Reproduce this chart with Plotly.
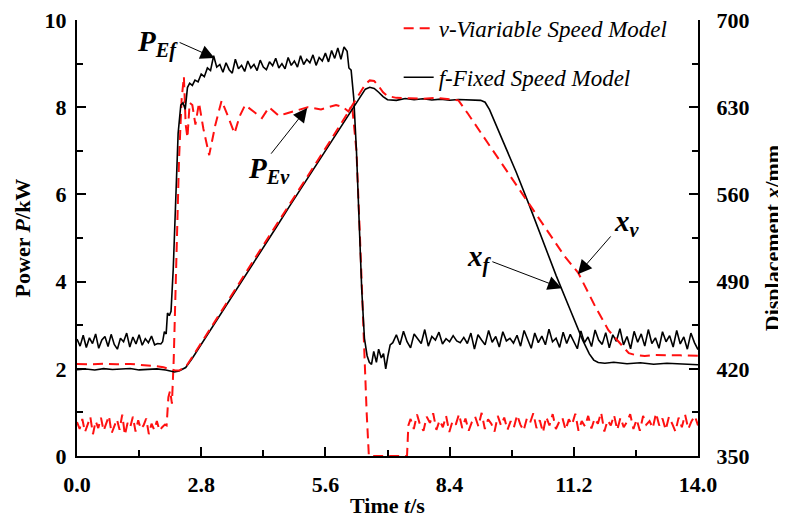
import numpy as np
import plotly.graph_objects as go

FONT = "Liberation Serif"

# ---------------- data ----------------
# Fixed-speed model: electric power P_Ef (kW)
pf_a = [2.68,2.52,2.77,2.49,2.71,2.58,2.80,2.47,2.66,2.74,2.51,2.79,2.56,2.45,2.70,
        2.62,2.82,2.50,2.73,2.57,2.78,2.54,2.69,2.60,2.75,2.55,2.58,2.57]
pf_a_span = (0.0, 1.89)
pf_rise_t = [1.93,1.97,2.01,2.04,2.08,2.12,2.17,2.22,2.28,2.34,2.39,2.44,2.49,2.54,2.60]
pf_rise = [2.62,2.85,2.80,3.28,3.22,3.32,4.30,5.90,7.40,8.05,8.10,7.95,8.45,8.55,8.50]
pf_b = [8.62,8.58,8.76,8.70,8.90,8.84,9.18,8.92,8.98,8.80,9.02,8.86,8.78,9.10,8.88,
        8.96,8.82,9.06,8.90,8.98,8.84,9.08,8.92,8.86,9.04,8.95,9.12,8.90,9.00,8.88,
        9.14,8.96,9.06,8.92,9.18,8.98,9.10,9.02,9.20,8.96,9.14,9.06,9.24,9.04,9.30,
        9.12,9.36,9.10,9.38,9.28]
pf_b_span = (2.66, 6.09)
pf_drop_t = [6.13,6.18,6.24,6.30,6.36,6.42,6.48,6.54,6.59,6.64,6.69,6.75,6.80,6.86,6.91,6.96,7.01,7.06]
pf_drop = [8.90,8.85,8.20,7.00,5.40,3.80,2.70,2.30,2.15,2.10,2.40,2.15,2.45,2.25,2.35,2.00,2.30,2.55]
pf_c = [2.60,2.78,2.55,2.86,2.62,2.48,2.80,2.70,2.58,2.90,
        2.52,2.74,2.66,2.84,2.57,2.69,2.62,2.76,2.64,2.60,
        2.72,2.58,2.82,2.45,2.78,2.66,2.55,2.88,2.61,2.74,
        2.50,2.85,2.64,2.70,2.59,2.77,2.52,2.88,2.67,2.47,
        2.82,2.60,2.75,2.55,2.91,2.62,2.70,2.49,2.84,2.58,
        2.79,2.64,2.46,2.87,2.60,2.73,2.51,2.89,2.66,2.56,
        2.83,2.48,2.78,2.63,2.92,2.55,2.74,2.46,2.86,2.61,
        2.80,2.52,2.90,2.58,2.71,2.47,2.85,2.62,2.76,2.50,
        2.88,2.57,2.73,2.45,2.82,2.60,2.44]
pf_c_span = (7.12, 14.0)

# Variable-speed model: electric power P_Ev (kW)
pv_a = [0.78,0.62,0.85,0.55,0.72,0.90,0.50,0.80,0.64,0.88,
        0.58,0.74,0.92,0.52,0.70,0.84,0.60,0.95,0.48,0.76,
        0.66,0.90,0.56,0.82,0.62,0.70,0.86,0.50,0.74,0.60,
        0.80,0.58,0.66,0.72]
pv_a_span = (0.0, 1.98)
pv_mid_t = [2.02,2.06,2.10,2.14,2.18,2.24,2.30,2.36,2.41,2.45,2.49,2.54,2.60,2.67,2.75,
            2.85,2.98,3.12,3.26,3.40,3.55,3.67,3.79,3.98,4.17,4.33,4.55,4.70,4.85,5.02,
            5.20,5.50,5.84,6.00,6.12,6.20,6.30,6.38,6.46,6.53,6.58,7.44,7.47]
pv_mid = [0.70,1.35,1.50,1.20,2.20,4.50,6.80,8.20,8.70,7.60,7.30,8.10,8.05,7.60,8.10,
          7.50,6.90,7.60,8.15,7.80,7.40,7.80,8.05,7.90,7.75,8.00,7.80,7.85,7.90,7.95,
          8.00,7.95,8.05,8.00,7.90,8.05,7.00,5.00,2.80,1.00,0.00,0.00,0.70]
pv_c = [0.85,0.62,0.95,0.70,0.58,0.90,0.76,0.98,0.60,0.82,
        0.66,0.92,0.55,0.80,0.72,0.96,0.64,0.86,0.58,0.78,
        0.90,0.68,0.99,0.62,0.84,0.74,0.56,0.92,0.70,0.88,
        0.60,0.80,0.66,0.94,0.72,0.58,0.86,0.76,0.98,0.64,
        0.82,0.54,0.90,0.70,0.96,0.62,0.78,0.88,0.60,0.84,
        0.72,0.97,0.58,0.80,0.68,0.92,0.63,0.86,0.74,1.00,
        0.56,0.82,0.70,0.94,0.60,0.88,0.66,0.78,0.96,0.62,
        0.84,0.58,0.92,0.72,0.80,0.64,0.98,0.70,0.86,0.60,
        0.90,0.74,0.56,0.88,0.66,0.95,0.62,0.80,0.92,0.70]
pv_c_span = (7.52, 14.0)

# Displacement x_f (mm), fixed-speed model
xf_t = [0.0,0.2,0.4,0.6,0.8,1.0,1.2,1.4,1.6,1.8,2.0,2.1,2.2,2.3,2.45,2.6,2.8,3.0,3.3,3.6,
        3.9,4.2,4.5,4.8,5.1,5.4,5.7,6.0,6.2,6.4,6.5,6.6,6.7,6.8,6.9,7.0,7.2,7.4,7.6,7.8,
        8.0,8.2,8.4,8.6,8.8,9.0,9.1,9.2,9.3,9.6,9.9,10.2,10.5,10.8,11.1,11.4,11.55,11.65,
        11.75,11.9,12.1,12.4,12.7,13.0,13.3,13.6,13.8,14.0]
xf = [419.2,419.8,419.0,420.1,419.4,419.7,420.3,419.1,419.6,419.9,419.0,418.4,417.4,418.2,
      421.0,428.5,439.5,451.0,467.5,484.0,501.0,517.5,534.0,551.0,567.5,584.0,601.0,617.5,
      629.0,640.0,644.5,646.0,645.0,642.0,638.5,636.0,635.5,637.0,636.0,636.8,635.8,636.5,
      635.6,636.2,635.8,636.0,635.5,634.0,628.0,603.0,578.0,551.0,523.0,495.0,469.0,443.0,
      432.0,427.0,425.0,424.5,425.2,424.0,424.8,423.6,424.4,423.8,423.0,423.2]

# Displacement x_v (mm), variable-speed model
xv_t = [0.0,0.3,0.6,0.9,1.2,1.5,1.8,1.95,2.1,2.2,2.3,2.45,2.6,2.8,3.0,3.3,3.6,3.9,4.2,4.5,
        4.8,5.1,5.4,5.7,6.0,6.2,6.4,6.5,6.6,6.7,6.8,6.9,7.0,7.2,7.5,7.8,8.1,8.4,8.6,8.8,
        9.0,9.34,9.63,10.02,10.39,10.77,11.0,11.3,11.69,11.98,12.3,12.44,12.6,12.8,13.0,
        13.3,13.6,14.0]
xv = [423.8,423.5,424.0,423.6,423.9,423.2,422.0,421.2,419.8,418.8,418.6,421.5,429.5,440.5,
      452.0,469.0,485.5,502.5,519.0,535.5,552.5,569.0,585.5,602.5,619.5,631.0,643.0,648.5,
      651.5,651.0,647.0,642.0,639.0,637.5,637.2,636.8,637.5,636.5,635.5,625.5,615.0,597.0,
      581.5,561.0,541.5,521.5,510.0,497.0,469.5,451.0,437.5,432.5,431.0,430.2,431.0,431.2,
      430.8,430.5]

x_ticks = [0.0, 2.8, 5.6, 8.4, 11.2, 14.0]
y_ticks = [0, 2, 4, 6, 8, 10]
y2_ticks = [350, 420, 490, 560, 630, 700]


def grid(span, vals):
    return list(np.linspace(span[0], span[1], len(vals)))


pf_t = grid(pf_a_span, pf_a) + pf_rise_t + grid(pf_b_span, pf_b) + pf_drop_t + grid(pf_c_span, pf_c)
pf = pf_a + pf_rise + pf_b + pf_drop + pf_c
pv_t = grid(pv_a_span, pv_a) + pv_mid_t + grid(pv_c_span, pv_c)
pv = pv_a + pv_mid + pv_c

RED = "#ff1010"
DASH = "10px,6px"

fig = go.Figure()
fig.add_trace(go.Scatter(x=pv_t, y=pv, mode="lines", name="<i>v-Viariable Speed Model</i>",
                         legendgroup="v", line=dict(color=RED, width=2, dash=DASH), yaxis="y"))
fig.add_trace(go.Scatter(x=pf_t, y=pf, mode="lines", name="<i>f-Fixed Speed Model</i>",
                         legendgroup="f", line=dict(color="black", width=1.6), yaxis="y"))
fig.add_trace(go.Scatter(x=xf_t, y=xf, mode="lines", showlegend=False, legendgroup="f",
                         line=dict(color="black", width=1.6), yaxis="y2"))
fig.add_trace(go.Scatter(x=xv_t, y=xv, mode="lines", showlegend=False, legendgroup="v",
                         line=dict(color=RED, width=2, dash=DASH), yaxis="y2"))

tickfont = dict(family=FONT, size=22, color="black", weight="bold")
titlefont = dict(family=FONT, size=22, color="black")
axis_common = dict(showline=True, linewidth=2, linecolor="black", ticks="inside", ticklen=9,
                   tickwidth=1.5, tickcolor="black", showgrid=False, zeroline=False,
                   tickfont=tickfont, automargin=False, ticklabeloverflow="allow")
minor_common = dict(ticks="inside", ticklen=6, tickwidth=1.5, tickcolor="black")

# the page body adds an 8 px offset at top/left, so the figure is 8 px smaller than the window
fig.update_layout(
    width=778, height=510,
    margin=dict(l=69, r=88, t=12, b=62, autoexpand=False),
    paper_bgcolor="white", plot_bgcolor="white",
    font=dict(family=FONT, color="black"),
    xaxis=dict(range=[0, 14], tickvals=x_ticks, ticktext=[f"{v:.1f}" for v in x_ticks],
               minor=dict(tickvals=[1.4, 4.2, 7.0, 9.8, 12.6], **minor_common),
               title=dict(text="<b>Time <i>t</i>/s</b>", font=titlefont, standoff=4),
               ticklabelstandoff=8, **axis_common),
    yaxis=dict(range=[0, 10], tickvals=y_ticks,
               minor=dict(tickvals=[1, 3, 5, 7, 9], **minor_common),
               title=dict(text="<b>Power <i>P</i>/kW</b>", font=titlefont, standoff=8),
               ticklabelstandoff=4, **axis_common),
    yaxis2=dict(range=[350, 700], tickvals=y2_ticks, overlaying="y", side="right",
                minor=dict(tickvals=[385, 455, 525, 595, 665], **minor_common),
                title=dict(text="<b>Displacement <i>x</i>/mm</b>", font=titlefont, standoff=16),
                ticklabelstandoff=12, **axis_common),
    legend=dict(x=0.518, y=1.03, xanchor="left", yanchor="top", bgcolor="rgba(0,0,0,0)",
                font=dict(family=FONT, size=23, color="black"), tracegroupgap=16,
                itemwidth=30),
    showlegend=True,
)

# arrows (tail -> head), in data coordinates of x / left y axis
arrows = [
    ((2.28, 9.50), (3.10, 9.13)),
    ((4.35, 6.90), (5.19, 7.98)),
    ((9.33, 4.47), (10.93, 3.85)),
    ((12.06, 5.07), (11.29, 4.17)),
]
for (tx, ty), (hx, hy) in arrows:
    fig.add_annotation(x=hx, y=hy, ax=tx, ay=ty, xref="x", yref="y", axref="x", ayref="y",
                       text="", showarrow=True, arrowhead=2, arrowsize=2.8, arrowwidth=1.0,
                       arrowcolor="black", standoff=0, startstandoff=0)

labels = [
    (1.82, 9.45, "<b><i>P</i></b><sub><b><i>Ef</i></b></sub>"),
    (4.33, 6.56, "<b><i>P</i></b><sub><b><i>Ev</i></b></sub>"),
    (9.08, 4.54, "<b><i>x</i></b><sub><b><i>f</i></b></sub>"),
    (12.41, 5.34, "<b><i>x</i></b><sub><b><i>v</i></b></sub>"),
]
for lx, ly, txt in labels:
    fig.add_annotation(x=lx, y=ly, xref="x", yref="y", text=txt, showarrow=False,
                       font=dict(family=FONT, size=29, color="black"))

fig.write_html("out.html")
